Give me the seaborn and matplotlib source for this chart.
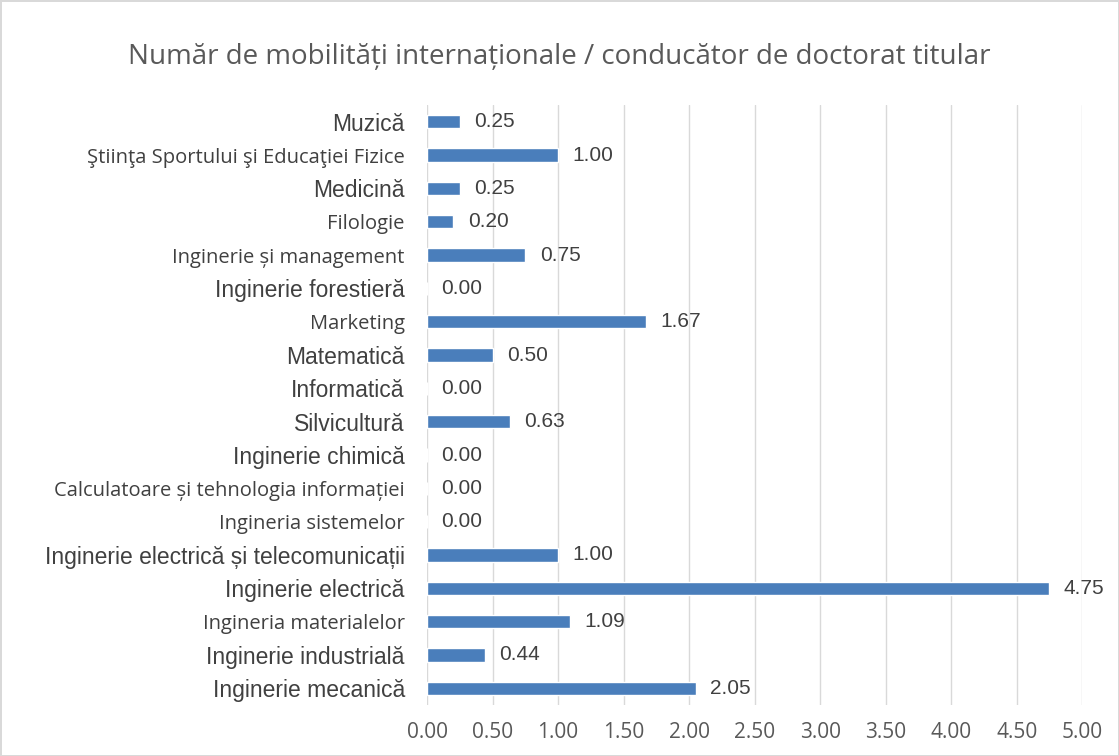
import seaborn as sns
import matplotlib.pyplot as plt
import pandas as pd

categories = ["Muzică", "Ştiinţa Sportului şi Educaţiei Fizice", "Medicină", "Filologie",
              "Inginerie și management", "Inginerie forestieră", "Marketing", "Matematică",
              "Informatică", "Silvicultură", "Inginerie chimică",
              "Calculatoare și tehnologia informației", "Ingineria sistemelor",
              "Inginerie electrică și telecomunicații", "Inginerie electrică",
              "Ingineria materialelor", "Inginerie industrială", "Inginerie mecanică"]
values = [0.25, 1.00, 0.25, 0.20, 0.75, 0.00, 1.67, 0.50, 0.00, 0.63, 0.00,
          0.00, 0.00, 1.00, 4.75, 1.09, 0.44, 2.05]
# labels that appear in the narrower (Calibri-like) face in the original
calibri_labels = ["Ştiinţa Sportului şi Educaţiei Fizice", "Filologie", "Inginerie și management",
                  "Marketing", "Calculatoare și tehnologia informației", "Ingineria sistemelor",
                  "Ingineria materialelor"]
xticks = [0, 0.5, 1, 1.5, 2, 2.5, 3, 3.5, 4, 4.5, 5]

df = pd.DataFrame({"cat": categories, "val": values})

sns.set_style("white")
plt.rcParams['font.family'] = ['Liberation Sans', 'DejaVu Sans']

fig = plt.figure(figsize=(11.19, 7.56), dpi=100)
fig.patch.set_edgecolor("#d9d9d9")
fig.patch.set_linewidth(2)
ax = fig.add_axes([0.3816, 0.0675, 0.5855, 0.7935])

sns.barplot(data=df, x="val", y="cat", orient="h", color="#4a7ebb", width=0.4,
            saturation=1, ax=ax)

ax.set_xlim(0, 5)
ax.set_xticks(xticks)
ax.set_xticklabels([f"{t:.2f}" for t in xticks], family=['Open Sans', 'DejaVu Sans'],
                   fontsize=15, color="#595959")
ax.tick_params(axis="x", length=0, pad=12)
ax.tick_params(axis="y", length=0, pad=16)
ax.grid(axis="x", color="#d9d9d9", linewidth=1)
ax.set_axisbelow(True)
for s in ax.spines.values():
    s.set_visible(False)
ax.set_xlabel("")
ax.set_ylabel("")

for lab in ax.get_yticklabels():
    if lab.get_text() in calibri_labels:
        lab.set_fontfamily(['Open Sans', 'DejaVu Sans'])
        lab.set_fontsize(14.5)
    else:
        lab.set_fontfamily(['Liberation Sans', 'DejaVu Sans'])
        lab.set_fontsize(16.5)
    lab.set_color("#404040")

for i, v in enumerate(values):
    ax.text(v + 0.11, i, f"{v:.2f}", va="center", ha="left", fontsize=15,
            color="#404040", family=['Liberation Sans', 'DejaVu Sans'])

fig.text(0.5, 0.925, "Număr de mobilități internaționale / conducător de doctorat titular",
         ha="center", va="center", fontsize=20, color="#595959",
         family=['Open Sans', 'DejaVu Sans'])

fig.savefig("out.png", dpi=100)
